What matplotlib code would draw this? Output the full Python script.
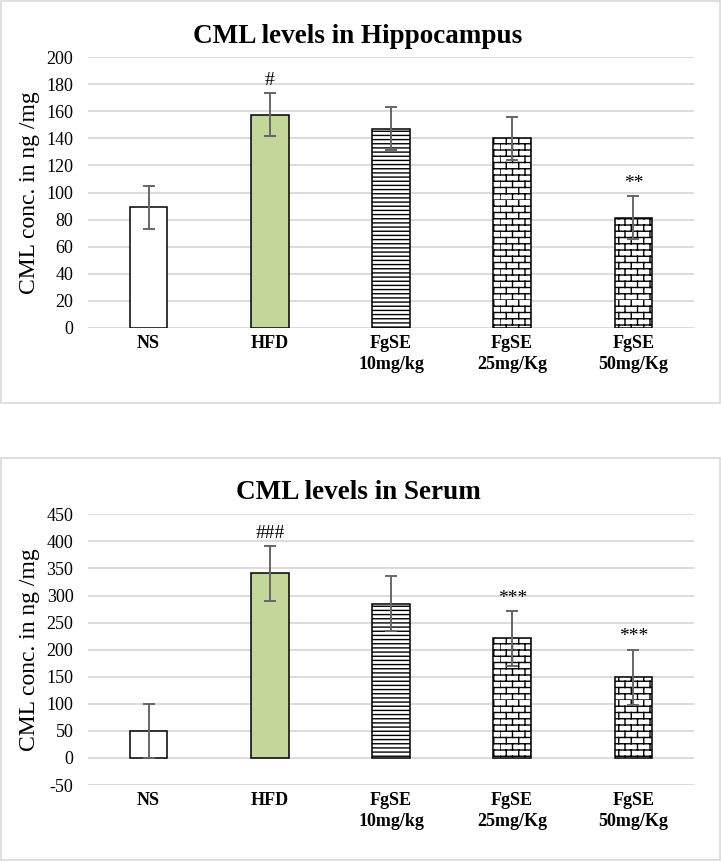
import numpy as np
import matplotlib
matplotlib.use("Agg")
import matplotlib.pyplot as plt
from matplotlib.patches import Rectangle
from matplotlib.path import Path
import matplotlib.hatch as mhatch

# ---------------- data ----------------
categories = ["NS", "HFD", "FgSE\n10mg/kg", "FgSE\n25mg/Kg", "FgSE\n50mg/Kg"]
hip_values = [89, 157.5, 147, 140, 81.5]
hip_errors = [15.7, 15.6, 15.8, 15.8, 15.6]
hip_marks = ["", "#", "", "", "**"]
serum_values = [50, 341, 285, 221, 149]
serum_errors = [50.5, 51, 51, 51, 51]
serum_marks = ["", "###", "", "***", "***"]
hip_title = "CML levels in Hippocampus"
serum_title = "CML levels in Serum"
ylabel = "CML conc. in ng /mg"
hip_ticks = list(range(0, 201, 20))
serum_ticks = list(range(-50, 451, 50))

# ---------------- brick hatch (replaces the 'O' pattern) ----------------
class BrickHatch(mhatch.HatchPatternBase):
    def __init__(self, hatch, density):
        self.rows = 16
        self.cols = 8
        if hatch.count('O') > 0:
            self.num_lines = self.rows + self.rows * self.cols
            self.num_vertices = 2 * self.num_lines
        else:
            self.num_lines = 0
            self.num_vertices = 0

    def set_vertices_and_codes(self, vertices, codes):
        v = []
        for i in range(self.rows):
            y0 = i / self.rows
            y1 = (i + 1) / self.rows
            v.append((0.0, y0)); v.append((1.0, y0))
            off = 0.5 * (i % 2)
            for j in range(self.cols):
                x = (j + off) / self.cols
                v.append((x, y0)); v.append((x, y1))
        vertices[:] = np.array(v)
        codes[0::2] = Path.MOVETO
        codes[1::2] = Path.LINETO

mhatch._hatch_types[:] = [h for h in mhatch._hatch_types if h is not mhatch.LargeCircles] + [BrickHatch]

plt.rcParams['font.family'] = ['Liberation Serif', 'DejaVu Serif']
plt.rcParams['hatch.linewidth'] = 1.0

fills = ["white", "#c4d79b", "white", "white", "white"]
hatches = [None, None, "----", "O", "O"]

fig = plt.figure(figsize=(7.21, 8.61), dpi=100)
W, H = 721, 861

def fx(px):
    return px / W

def fy(py):
    return 1 - py / H

# panel borders
for (top, bot) in [(0.8, 402.5), (458, 859.5)]:
    fig.add_artist(Rectangle((fx(0.8), fy(bot)), fx(719.5 - 0.8), fy(top) - fy(bot),
                             transform=fig.transFigure, fill=False,
                             edgecolor="#d9d9d9", linewidth=1.2))

def draw(ax_rect, values, errors, marks, ticks, title, title_y):
    left, top, right, bottom = ax_rect
    ax = fig.add_axes([fx(left), fy(bottom), fx(right - left), fy(top) - fy(bottom)])
    x = np.arange(len(categories))
    ax.set_axisbelow(True)
    for t in ticks:
        ax.axhline(t, color="#d9d9d9", linewidth=1.3, zorder=0)
    bars = ax.bar(x, values, width=0.31, color=fills, edgecolor="black", linewidth=1.1, zorder=2)
    for b, h in zip(bars, hatches):
        if h:
            b.set_hatch(h)
    ax.errorbar(x, values, yerr=errors, fmt="none", ecolor="#666666", elinewidth=1.4,
                capsize=4.5, capthick=1.4, zorder=3)
    for xi, v, e, m in zip(x, values, errors, marks):
        if m:
            ax.annotate(m, (xi, v + e), xytext=(0, 3), textcoords="offset points",
                        ha="center", va="bottom", fontsize=14, color="black")
    ax.set_xlim(-0.5, len(categories) - 0.5)
    ax.set_ylim(ticks[0], ticks[-1])
    ax.set_yticks(ticks)
    ax.set_yticklabels([str(t) for t in ticks], fontsize=13)
    ax.set_xticks(x)
    ax.set_xticklabels(categories, fontsize=13, fontweight="bold", linespacing=1.35)
    ax.tick_params(axis="y", length=0, pad=10.5)
    ax.tick_params(axis="x", length=0, pad=5)
    for s in ax.spines.values():
        s.set_visible(False)
    ax.set_ylabel(ylabel, fontsize=17)
    ax.yaxis.set_label_coords(-(left - 40) / (right - left), 0.5)
    fig.text(fx(358), fy(title_y), title, ha="center", va="baseline",
             fontsize=19.5, fontweight="bold")
    return ax

ax1 = draw((88, 57, 694, 328), hip_values, hip_errors, hip_marks, hip_ticks, hip_title, 43)
ax2 = draw((88, 514.3, 694, 785), serum_values, serum_errors, serum_marks, serum_ticks, serum_title, 499)

fig.savefig("out.png", dpi=100)
